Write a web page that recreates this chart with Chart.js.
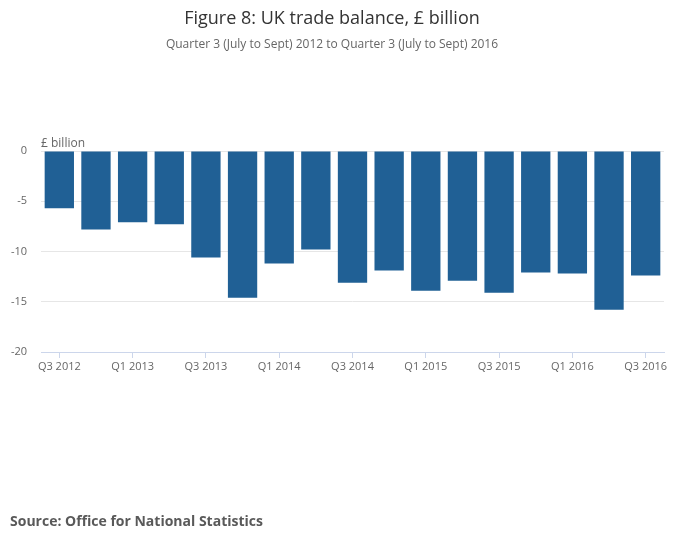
<!DOCTYPE html>
<html>
<head>
<meta charset="utf-8">
<script src="https://cdn.jsdelivr.net/npm/chart.js@4/dist/chart.umd.min.js"></script>
<style>
  html, body { margin: 0; padding: 0; background: #fff; }
  #wrap { width: 700px; height: 549px; position: relative; }
</style>
</head>
<body>
<div id="wrap"><canvas id="trade-chart"></canvas></div>
<script>
// quarters shown on the x axis
const quarters = [
    'Q3 2012', 'Q4 2012', 'Q1 2013', 'Q2 2013', 'Q3 2013', 'Q4 2013',
    'Q1 2014', 'Q2 2014', 'Q3 2014', 'Q4 2014', 'Q1 2015', 'Q2 2015',
    'Q3 2015', 'Q4 2015', 'Q1 2016', 'Q2 2016', 'Q3 2016'
];
// trade balance, £ billion
const tradeBalance = [
    -5.7, -7.8, -7.1, -7.3, -10.6, -14.6, -11.2, -9.8, -13.1,
    -11.9, -13.9, -12.9, -14.1, -12.1, -12.2, -15.8, -12.4
];
const yTicks = [-20, -15, -10, -5, 0];

const titleText = 'Figure 8: UK trade balance, £ billion';
const subtitleText = 'Quarter 3 (July to Sept) 2012 to Quarter 3 (July to Sept) 2016';
const unitText = '£ billion';
const sourceText = 'Source: Office for National Statistics';

const fontFamily = '"Open Sans", "Noto Sans", sans-serif';

// texto extra: unidad arriba del eje y fuente abajo
const extraText = {
    id: 'extraText',
    afterDraw(chart) {
        const ctx = chart.ctx;
        const area = chart.chartArea;
        ctx.save();
        ctx.fillStyle = '#666666';
        ctx.font = '12px ' + fontFamily;
        ctx.textAlign = 'left';
        ctx.textBaseline = 'bottom';
        ctx.fillText(unitText, area.left, area.top - 1);

        ctx.font = 'bold 14px ' + fontFamily;
        ctx.fillStyle = '#595959';
        ctx.textBaseline = 'middle';
        ctx.fillText(sourceText, 10, 522);
        ctx.restore();
    }
};

const ctx = document.getElementById('trade-chart').getContext('2d');
const myChart = new Chart(ctx, {
    type: 'bar',
    data: {
        labels: quarters,
        datasets: [{
            data: tradeBalance,
            backgroundColor: '#206095',
            borderWidth: 0,
            categoryPercentage: 1.0,
            barPercentage: 0.8
        }]
    },
    options: {
        responsive: true,
        maintainAspectRatio: false,
        animation: false,
        layout: {
            padding: { left: 0, right: 36, top: 0, bottom: 167 }
        },
        plugins: {
            legend: { display: false },
            tooltip: { enabled: false },
            title: {
                display: true,
                text: titleText,
                color: '#333333',
                font: { family: fontFamily, size: 18, weight: 'normal' },
                padding: { top: 8, bottom: 8 }
            },
            subtitle: {
                display: true,
                text: subtitleText,
                color: '#666666',
                font: { family: fontFamily, size: 12, weight: 'normal' },
                padding: { top: 0, bottom: 99 }
            }
        },
        scales: {
            x: {
                grid: {
                    offset: false,
                    drawOnChartArea: false,
                    drawTicks: true,
                    tickLength: 6,
                    color: '#ccd6eb'
                },
                border: { color: '#ccd6eb', width: 1 },
                ticks: {
                    autoSkip: false,
                    maxRotation: 0,
                    color: '#666666',
                    font: { family: fontFamily, size: 11 },
                    padding: 2,
                    callback: function (value, index) {
                        return index % 2 === 0 ? quarters[index] : null;
                    }
                },
                afterFit(scale) { scale.height = 30; }
            },
            y: {
                min: -20,
                max: 0,
                afterBuildTicks(scale) {
                    scale.ticks = yTicks.map(v => ({ value: v }));
                },
                grid: { color: '#e6e6e6', drawTicks: false },
                border: { display: false },
                ticks: {
                    color: '#666666',
                    font: { family: fontFamily, size: 11 },
                    padding: 14
                },
                afterFit(scale) { scale.width = 41; }
            }
        }
    },
    plugins: [extraText]
});

myChart.render();
</script>
</body>
</html>
